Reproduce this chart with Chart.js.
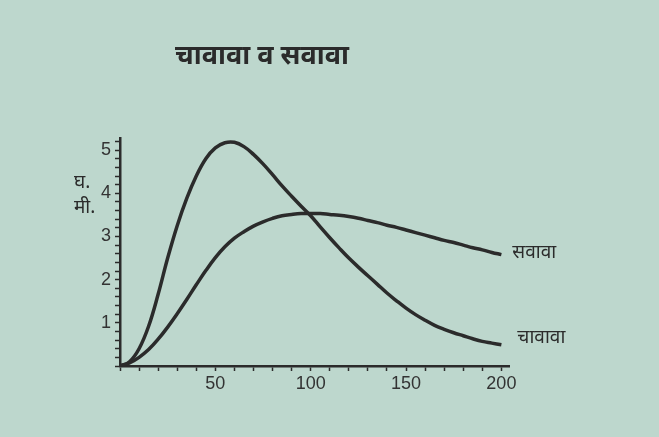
<!DOCTYPE html>
<html lang="mr">
<head>
    <meta charset="UTF-8">
    <title>चावावा व सवावा</title>
    <style>
        body {
            margin: 0;
            padding: 0;
            background-color: #bdd7cd;
        }
        .wrap {
            width: 659px;
            height: 437px;
        }
    </style>
    <script src="https://cdn.jsdelivr.net/npm/chart.js"></script>
</head>
<body>
    <div class="wrap">
        <canvas id="curveChart" width="659" height="437"></canvas>
    </div>

    <script>
        // values
        const xValues = [0, 5, 10, 15, 20, 25, 30, 35, 40, 45, 50, 55, 60, 65, 70, 75, 80, 85, 90, 95, 100,
            105, 110, 115, 120, 125, 130, 135, 140, 145, 150, 155, 160, 165, 170, 175, 180, 185, 190, 195, 200];
        const chawawa = [0, 0.1, 0.4, 0.92, 1.66, 2.5, 3.25, 3.88, 4.4, 4.8, 5.05, 5.17, 5.18, 5.08, 4.9, 4.68, 4.43, 4.17, 3.93, 3.7, 3.48,
            3.22, 2.97, 2.73, 2.5, 2.29, 2.09, 1.89, 1.69, 1.51, 1.34, 1.19, 1.06, 0.94, 0.85, 0.77, 0.7, 0.63, 0.57, 0.53, 0.49];
        const sawawa = [0, 0.07, 0.2, 0.38, 0.62, 0.9, 1.21, 1.54, 1.88, 2.21, 2.51, 2.76, 2.96, 3.11, 3.24, 3.34, 3.42, 3.48, 3.51, 3.53, 3.53,
            3.53, 3.51, 3.49, 3.46, 3.42, 3.37, 3.32, 3.26, 3.21, 3.15, 3.09, 3.03, 2.97, 2.91, 2.86, 2.8, 2.74, 2.69, 2.63, 2.58];
        const seriesNames = ['चावावा', 'सवावा'];
        const chartTitle = 'चावावा व सवावा';
        const yTitleLines = ['घ.', 'मी.'];
        const xTickLabels = [50, 100, 150, 200];
        const xTickMarks = [0, 10, 20, 30, 40, 50, 60, 70, 80, 90, 100, 110, 120, 130, 140, 150, 160, 170, 180, 190, 200];
        const yTickLabels = [1, 2, 3, 4, 5];
        const yTickMarks = [0, 0.2, 0.4, 0.6, 0.8, 1, 1.2, 1.4, 1.6, 1.8, 2, 2.2, 2.4, 2.6, 2.8, 3, 3.2, 3.4, 3.6, 3.8, 4,
            4.2, 4.4, 4.6, 4.8, 5, 5.2];

        const ink = '#2b2b2b';
        const textFont = '"Noto Sans", "Liberation Sans", sans-serif';
        const numFont = '"Liberation Sans", Arial, sans-serif';

        function toPoints(ys) {
            return xValues.map((x, i) => ({ x: x, y: ys[i] }));
        }

        // title, y-axis caption and the names at the line ends
        const textPlugin = {
            id: 'textPlugin',
            afterDraw(chart) {
                const ctx = chart.ctx;
                const xs = chart.scales.x;
                const ys = chart.scales.y;
                ctx.save();
                ctx.fillStyle = ink;
                ctx.textBaseline = 'middle';

                ctx.font = 'bold 27px ' + textFont;
                ctx.textAlign = 'center';
                ctx.fillText(chartTitle, 262, 56);

                ctx.font = '19px ' + textFont;
                ctx.textAlign = 'left';
                ctx.fillText(yTitleLines[0], 74, 183);
                ctx.fillText(yTitleLines[1], 74, 208);

                const last = xValues.length - 1;
                const xEnd = xs.getPixelForValue(xValues[last]);
                ctx.fillText(seriesNames[1], xEnd + 11, ys.getPixelForValue(sawawa[last]) - 2);
                ctx.fillText(seriesNames[0], xEnd + 16, ys.getPixelForValue(chawawa[last]) - 7);
                ctx.restore();
            }
        };

        const ctx = document.getElementById('curveChart').getContext('2d');
        new Chart(ctx, {
            type: 'line',
            data: {
                datasets: [
                    {
                        label: seriesNames[0],
                        data: toPoints(chawawa),
                        borderColor: ink,
                        borderWidth: 3.5,
                        pointRadius: 0,
                        fill: false,
                        tension: 0.4
                    },
                    {
                        label: seriesNames[1],
                        data: toPoints(sawawa),
                        borderColor: ink,
                        borderWidth: 3.5,
                        pointRadius: 0,
                        fill: false,
                        tension: 0.4
                    }
                ]
            },
            options: {
                responsive: false,
                animation: false,
                devicePixelRatio: 1,
                layout: {
                    padding: { left: 60, top: 138, right: 150, bottom: 31 }
                },
                plugins: {
                    legend: { display: false },
                    title: { display: false },
                    tooltip: { enabled: false }
                },
                scales: {
                    x: {
                        type: 'linear',
                        min: 0,
                        max: 204,
                        afterBuildTicks: axis => { axis.ticks = xTickMarks.map(v => ({ value: v })); },
                        afterFit: axis => { axis.height = 40; },
                        border: { color: ink, width: 2.5 },
                        grid: { drawOnChartArea: false, color: ink, tickLength: 5, tickWidth: 1.5 },
                        ticks: {
                            color: '#333',
                            font: { family: numFont, size: 18 },
                            padding: 2,
                            maxRotation: 0,
                            autoSkip: false,
                            callback: v => xTickLabels.includes(v) ? String(v) : ''
                        }
                    },
                    y: {
                        min: 0,
                        max: 5.28,
                        afterBuildTicks: axis => { axis.ticks = yTickMarks.map(v => ({ value: v })); },
                        afterFit: axis => { axis.width = 60; },
                        border: { color: ink, width: 2.5 },
                        grid: { drawOnChartArea: false, color: ink, tickLength: 5, tickWidth: 1.5 },
                        ticks: {
                            color: '#333',
                            font: { family: numFont, size: 18 },
                            padding: 4,
                            autoSkip: false,
                            callback: v => yTickLabels.includes(v) ? String(v) : ''
                        }
                    }
                }
            },
            plugins: [textPlugin]
        });
    </script>
</body>
</html>
